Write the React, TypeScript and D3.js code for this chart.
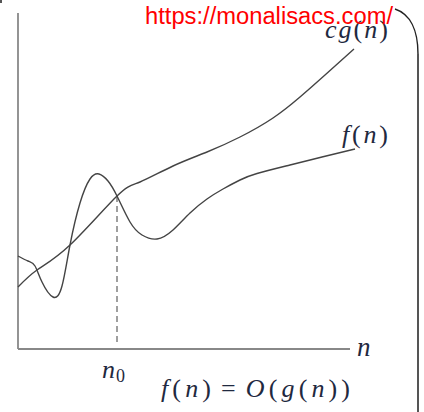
import React from "react";
import * as d3 from "d3";

// Asymptotic bound sketch: f(n) eventually stays below c·g(n) for n ≥ n0
const cgN = [0, 19, 52, 99, 122, 155, 189, 222, 255, 282, 307, 336];
const cgV = [62, 79, 104, 153, 167, 183, 197, 212, 231, 252, 274, 300];

const fN = [0, 10, 17, 24, 35, 44, 52, 62, 72, 81, 90, 99, 112, 124, 139, 155, 172, 189, 205, 222, 239, 272, 304, 337];
const fV = [93, 88, 83, 67, 52, 63, 104, 146, 170, 175, 168, 153, 127, 114, 110, 119, 136, 150, 160, 169, 175.5, 184, 192, 200];

const n0 = 99;
const xMax = 332;
const yMax = 336;

const W = 424;
const H = 412;

export default function App() {
  const x = d3.scaleLinear().domain([0, xMax]).range([18, 350]);
  const y = d3.scaleLinear().domain([0, yMax]).range([349, 13]);

  const line = d3
    .line<[number, number]>()
    .x((d) => x(d[0]))
    .y((d) => y(d[1]))
    .curve(d3.curveNatural);

  const cgPts: [number, number][] = cgN.map((n, i) => [n, cgV[i]]);
  const fPts: [number, number][] = fN.map((n, i) => [n, fV[i]]);

  // c·g(n0): where the dashed marker meets the curve
  const cgAtN0 = cgV[cgN.indexOf(n0)];

  const math = "'Liberation Serif', 'DejaVu Serif', serif";
  const ink = "#1f2940";

  return (
    <svg
      width={W}
      height={H}
      style={{ position: "absolute", left: 0, top: 0, background: "#fff" }}
    >
      <rect x={0} y={0} width={2} height={3} fill="#555" />

      {/* right-hand frame edge */}
      <path
        d="M395,9 C410,14 418,30 418,54"
        fill="none"
        stroke="#222"
        strokeWidth={1.4}
      />
      <line x1={418} y1={54} x2={418} y2={412} stroke="#555" strokeWidth={2} />

      {/* axes */}
      <line x1={x(0)} y1={y(0)} x2={x(0)} y2={y(yMax)} stroke="#888" strokeWidth={1.8} />
      <line x1={x(0)} y1={y(0)} x2={x(xMax)} y2={y(0)} stroke="#888" strokeWidth={1.8} />

      {/* n0 marker */}
      <line
        x1={x(n0)}
        y1={y(cgAtN0)}
        x2={x(n0)}
        y2={y(7)}
        stroke="#808080"
        strokeWidth={1.5}
        strokeDasharray="6,4"
      />

      <path d={line(cgPts) ?? ""} fill="none" stroke="#444" strokeWidth={1.4} />
      <path d={line(fPts) ?? ""} fill="none" stroke="#444" strokeWidth={1.4} />

      {/* curve labels */}
      <text
        x={325}
        y={38}
        fontFamily={math}
        fontSize={26}
        fill={ink}
        textLength={63}
        lengthAdjust="spacing"
      >
        <tspan fontStyle="italic">c</tspan>
        <tspan fontStyle="italic">g</tspan>
        <tspan>(</tspan>
        <tspan fontStyle="italic">n</tspan>
        <tspan>)</tspan>
      </text>
      <text
        x={342}
        y={143}
        fontFamily={math}
        fontSize={26}
        fill={ink}
        textLength={46}
        lengthAdjust="spacing"
      >
        <tspan fontStyle="italic">f</tspan>
        <tspan>(</tspan>
        <tspan fontStyle="italic">n</tspan>
        <tspan>)</tspan>
      </text>

      {/* axis labels */}
      <text x={357} y={356} fontFamily={math} fontSize={27} fontStyle="italic" fill={ink}>
        n
      </text>
      <text x={102} y={378} fontFamily={math} fontSize={26} fill={ink}>
        <tspan fontStyle="italic">n</tspan>
        <tspan fontSize={18} dy={4} dx={1}>0</tspan>
      </text>

      <text
        x={161}
        y={397}
        fontFamily={math}
        fontSize={26}
        fill={ink}
        textLength={189}
        lengthAdjust="spacing"
      >
        <tspan fontStyle="italic">f</tspan>
        <tspan>(</tspan>
        <tspan fontStyle="italic">n</tspan>
        <tspan>)</tspan>
        <tspan dx={6}>=</tspan>
        <tspan dx={6} fontStyle="italic">O</tspan>
        <tspan>(</tspan>
        <tspan fontStyle="italic">g</tspan>
        <tspan>(</tspan>
        <tspan fontStyle="italic">n</tspan>
        <tspan>))</tspan>
      </text>

      <text
        x={145}
        y={24}
        fontFamily="'Liberation Sans', Arial, sans-serif"
        fontSize={23}
        fill="#ff0000"
        textLength={248}
        lengthAdjust="spacingAndGlyphs"
      >
        https://monalisacs.com/
      </text>
    </svg>
  );
}
